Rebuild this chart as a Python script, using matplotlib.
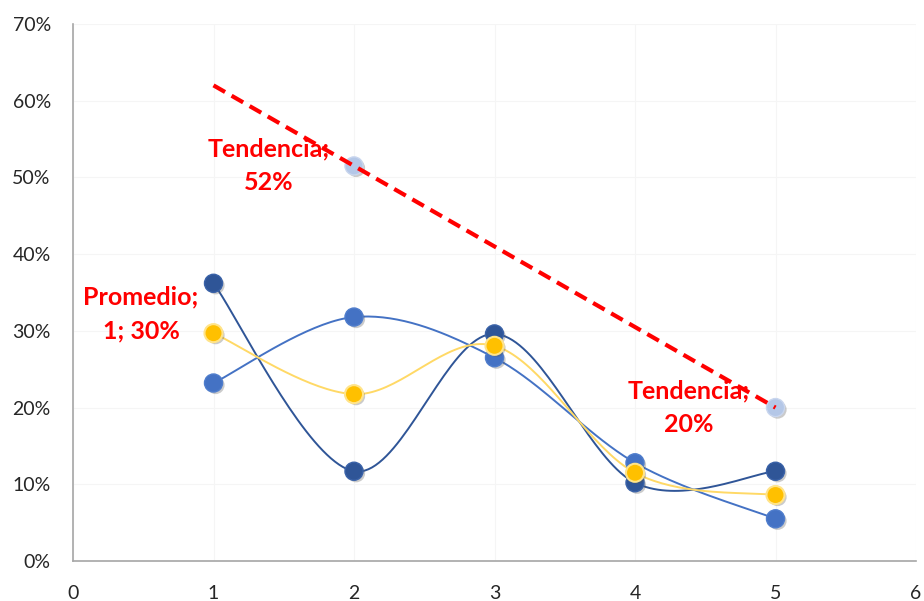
import numpy as np
import matplotlib
matplotlib.use("Agg")
import matplotlib.pyplot as plt
import matplotlib.patheffects as pe
from matplotlib.ticker import PercentFormatter

plt.rcParams['font.family'] = ['Lato', 'DejaVu Sans']

# Data
x = [1, 2, 3, 4, 5]
serie_a = [0.362, 0.117, 0.296, 0.102, 0.117]
serie_b = [0.232, 0.318, 0.265, 0.128, 0.055]
promedio = [(a + b) / 2 for a, b in zip(serie_a, serie_b)]
tendencia_x = [2, 5]
tendencia_y = [0.515, 0.20]
x_ticks = [0, 1, 2, 3, 4, 5, 6]
y_ticks = [0, 0.1, 0.2, 0.3, 0.4, 0.5, 0.6, 0.7]


def smooth(xs, ys, n=40):
    """Catmull-Rom style smoothing, similar to spreadsheet smoothed lines."""
    xs = np.asarray(xs, float)
    ys = np.asarray(ys, float)
    px = np.concatenate([[xs[0]], xs, [xs[-1]]])
    py = np.concatenate([[ys[0]], ys, [ys[-1]]])
    out_x, out_y = [], []
    for i in range(1, len(px) - 2):
        p0 = np.array([px[i - 1], py[i - 1]])
        p1 = np.array([px[i], py[i]])
        p2 = np.array([px[i + 1], py[i + 1]])
        p3 = np.array([px[i + 2], py[i + 2]])
        c1 = p1 + (p2 - p0) / 6
        c2 = p2 - (p3 - p1) / 6
        t = np.linspace(0, 1, n)[:, None]
        pts = ((1 - t) ** 3) * p1 + 3 * ((1 - t) ** 2) * t * c1 + 3 * (1 - t) * t ** 2 * c2 + t ** 3 * p2
        out_x.extend(pts[:, 0])
        out_y.extend(pts[:, 1])
    return np.array(out_x), np.array(out_y)


fig = plt.figure(figsize=(9.24, 6.01), dpi=100)
ax = fig.add_axes([73 / 924, 40 / 601, (916 - 73) / 924, (561 - 24) / 601])
ax.set_xlim(0, 6)
ax.set_ylim(0, 0.7)

shadow = [pe.SimplePatchShadow(offset=(1.5, -1.5), alpha=0.3, shadow_rgbFace='#555555'), pe.Normal()]

# Smoothed series lines
for ys, col in [(serie_a, '#2F5597'), (serie_b, '#4472C4'), (promedio, '#FFD966')]:
    sx, sy = smooth(x, ys)
    ax.plot(sx, sy, color=col, lw=1.4, zorder=3)

ax.plot(x, serie_a, ls='none', marker='o', ms=13, mfc='#2F5597', mec='#3A62A8', mew=1,
        zorder=4, path_effects=shadow)
ax.plot(x, serie_b, ls='none', marker='o', ms=13, mfc='#4472C4', mec='#4F7DCC', mew=1,
        zorder=4, path_effects=shadow)
ax.plot(x, promedio, ls='none', marker='o', ms=13, mfc='#FFC000', mec='#FFE48A', mew=1.5,
        zorder=5, path_effects=shadow)

# Trend points and linear trend line
ax.plot(tendencia_x, tendencia_y, ls='none', marker='o', ms=13, mfc='#B4C7E7', mec='#C9D6EE',
        mew=1, zorder=4, path_effects=shadow)
coef = np.polyfit(tendencia_x, tendencia_y, 1)
tx = np.array([1, 5])
ax.plot(tx, np.polyval(coef, tx), color='#FF0000', lw=3, ls=(0, (3.2, 1.8)), zorder=6)

# Data labels
lbl = dict(color='#FF0000', fontsize=18, fontweight='bold', ha='center', va='center',
           linespacing=1.55, zorder=7)
ax.text(1.39, 0.515, 'Tendencia;\n52%', **lbl)
ax.text(0.484, 0.322, 'Promedio;\n1; 30%', **lbl)
ax.text(4.38, 0.200, 'Tendencia;\n20%', **lbl)

# Axes styling
ax.set_xticks(x_ticks)
ax.set_yticks(y_ticks)
ax.yaxis.set_major_formatter(PercentFormatter(1.0, decimals=0))
ax.tick_params(length=0, labelsize=14, colors='#262626')
ax.tick_params(axis='y', pad=16)
ax.tick_params(axis='x', pad=17)
ax.grid(True, color='#F5F5F5', lw=0.8)
ax.set_axisbelow(True)
for s in ['top', 'right']:
    ax.spines[s].set_visible(False)
for s in ['left', 'bottom']:
    ax.spines[s].set_color('#A6A6A6')
    ax.spines[s].set_linewidth(1.2)

fig.savefig('out.png', dpi=100)
